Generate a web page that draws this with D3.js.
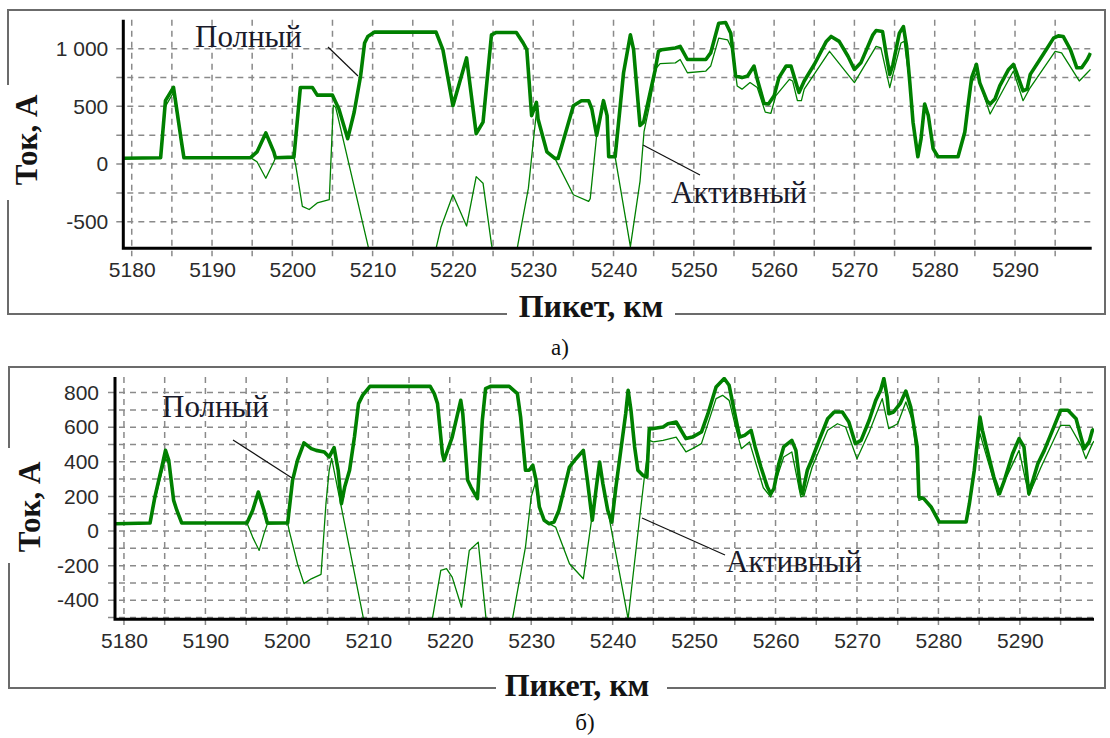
<!DOCTYPE html>
<html>
<head>
<meta charset="utf-8">
<script src="https://cdn.jsdelivr.net/npm/d3@7"></script>
<style>
  html, body { margin: 0; padding: 0; background: #fff; }
  svg { display: block; }
</style>
</head>
<body>
<svg id="chart" width="1110" height="738"></svg>
<script>
// ---- Panel (а): current profile, 5179–5300 km ----
const topKmFull = [5179.0,5183.6,5184.2,5185.2,5186.2,5186.5,5194.8,5195.6,5196.7,5197.7,5197.9,5200.2,5201.0,5202.5,5203.1,5205.0,5205.8,5206.9,5207.7,5208.5,5209.0,5209.4,5210.2,5217.9,5218.75,5220.0,5221.7,5222.9,5223.75,5224.8,5225.4,5227.9,5228.75,5229.2,5229.8,5230.4,5230.6,5231.7,5232.7,5233.1,5235.0,5236.0,5236.9,5237.3,5237.9,5238.75,5239.2,5239.4,5240.2,5241.25,5242.1,5242.5,5243.3,5243.75,5245.2,5245.6,5246.0,5247.7,5248.3,5249.2,5251.5,5252.1,5253.1,5253.96,5254.6,5255.2,5256.0,5256.7,5257.5,5257.9,5258.75,5259.3,5260.0,5260.6,5261.5,5262.1,5262.9,5263.1,5263.75,5265.0,5266.5,5267.1,5268.1,5269.2,5270.0,5270.8,5272.3,5272.7,5273.5,5274.0,5274.4,5274.8,5275.6,5276.1,5276.5,5276.9,5277.3,5277.9,5278.3,5278.75,5279.2,5279.8,5280.4,5282.9,5283.75,5284.2,5284.6,5285.2,5285.6,5286.5,5286.9,5287.5,5288.1,5289.2,5289.8,5290.2,5291.0,5291.5,5291.9,5293.5,5294.8,5295.4,5296.0,5296.9,5297.7,5298.3,5299.0,5299.4];
const topFull = [50,55,550,665,190,55,55,105,270,105,55,60,663,663,597,597,477,220,449,763,1049,1106,1143,1143,991,506,920,263,363,1120,1140,1140,1049,991,420,534,391,106,49,49,506,549,549,477,249,549,420,63,63,791,1120,991,334,363,820,977,991,1006,1020,906,906,963,1220,1226,1134,763,749,763,849,734,525,520,591,749,849,849,663,620,720,863,1063,1106,1063,934,820,877,1120,1157,1149,934,777,863,1134,1191,1020,706,363,63,220,520,420,134,63,63,277,534,749,863,706,549,520,563,677,820,863,791,634,649,777,949,1091,1111,1106,991,834,834,906,963];

const topKmActive = [5179.0,5183.6,5184.2,5185.2,5186.2,5186.5,5194.8,5195.6,5196.7,5197.7,5197.9,5200.2,5200.4,5201.25,5202.1,5203.1,5204.6,5205.1,5205.4,5209.5,5210.2,5217.2,5217.9,5218.5,5220.0,5221.7,5222.9,5223.75,5224.8,5225.5,5227.5,5228.1,5229.4,5230.0,5230.4,5230.6,5231.7,5232.7,5235.0,5236.9,5237.1,5237.9,5238.75,5239.2,5239.4,5240.2,5242.1,5243.3,5243.8,5244.4,5245.3,5245.8,5247.7,5248.3,5249.2,5251.5,5252.1,5253.1,5254.2,5254.8,5255.4,5256.0,5257.0,5257.9,5258.9,5259.6,5260.2,5261.9,5262.3,5262.9,5263.4,5263.75,5266.9,5270.0,5272.7,5273.3,5274.4,5274.8,5275.8,5276.2,5276.6,5276.9,5277.3,5277.9,5278.3,5278.75,5279.2,5279.8,5280.4,5282.9,5283.75,5284.2,5284.6,5285.2,5286.9,5289.8,5291.0,5291.9,5295.0,5295.8,5298.0,5299.0,5299.4];
const topActive = [50,55,500,620,180,55,55,20,-123,20,55,55,0,-366,-394,-337,-309,510,491,-730,-950,-950,-730,-550,-266,-537,-109,-166,-694,-950,-950,-694,-209,191,450,391,106,49,-266,-323,-300,249,549,420,63,63,-716,-150,280,480,830,870,877,906,791,806,849,1091,1077,991,677,649,706,663,450,440,591,734,720,549,549,650,977,706,1020,1006,663,777,1049,1063,850,706,363,63,220,520,420,134,63,63,277,534,700,791,434,806,549,663,977,963,720,791,820];

const topYTicks = [1000, 500, 0, -500];
const topYTickLabels = ["1 000", "500", "0", "-500"];

// ---- Panel (б): current profile, 5179–5299 km ----
const botKmFull = [5179.0,5183.2,5183.8,5184.65,5185.1,5185.5,5186.1,5186.5,5187.1,5195.1,5195.8,5196.5,5197.2,5197.6,5200.1,5200.7,5201.3,5202.1,5203.0,5203.6,5204.6,5205.2,5205.8,5206.3,5206.7,5207.1,5207.7,5208.3,5208.8,5209.3,5210.2,5217.6,5218.1,5218.5,5219.1,5219.3,5220.3,5221.35,5221.6,5222.2,5222.6,5223.4,5224.0,5224.4,5225.0,5227.3,5228.3,5228.7,5229.3,5229.75,5230.2,5230.6,5231.0,5231.6,5232.2,5232.8,5233.4,5234.3,5234.7,5235.5,5236.4,5236.9,5237.5,5238.0,5238.4,5238.8,5239.4,5239.9,5240.4,5241.0,5241.6,5241.9,5242.25,5242.7,5243.1,5243.7,5244.2,5244.5,5245.0,5246.2,5246.8,5247.8,5249.0,5249.8,5250.9,5251.7,5252.7,5253.7,5254.3,5255.0,5255.6,5256.2,5257.0,5257.5,5258.2,5259.0,5259.4,5259.8,5260.4,5261.0,5262.0,5262.5,5263.1,5263.3,5263.9,5264.5,5265.5,5266.4,5267.2,5268.2,5269.0,5269.8,5270.5,5271.5,5272.3,5272.9,5273.3,5273.7,5273.9,5274.5,5275.3,5276.0,5276.6,5277.0,5277.4,5277.6,5278.2,5279.1,5280.1,5283.4,5283.8,5284.4,5284.8,5285.1,5285.4,5286.0,5286.8,5287.5,5288.1,5289.1,5289.9,5290.5,5291.1,5291.6,5292.2,5293.0,5294.0,5295.0,5295.9,5296.9,5297.5,5297.9,5298.5,5298.9,5299.1];
const botFull = [42,46,197,370,466,408,177,119,46,46,119,225,119,46,46,293,408,509,476,466,457,428,482,351,158,254,351,543,736,784,836,836,794,736,447,408,543,755,678,293,254,187,640,823,836,836,794,659,351,351,380,293,139,62,42,52,119,293,370,418,466,293,62,254,399,274,119,52,254,466,678,813,698,486,351,322,312,592,592,601,620,630,534,543,572,678,832,881,842,678,543,553,582,486,370,254,216,245,389,486,524,466,235,216,351,418,543,649,688,688,630,505,524,640,755,813,881,775,678,688,736,809,717,601,486,197,187,139,52,52,158,351,524,659,582,466,312,216,293,447,534,486,216,293,389,466,582,698,698,649,543,476,515,582,590];

const botKmActive = [5179.0,5183.2,5183.8,5184.65,5185.1,5185.5,5186.1,5186.5,5187.1,5195.1,5195.8,5196.6,5197.2,5197.6,5200.1,5200.3,5201.3,5202.1,5203.0,5204.2,5204.8,5205.2,5205.5,5209.4,5210.0,5217.0,5217.9,5218.9,5219.6,5220.3,5221.45,5222.4,5223.5,5224.45,5225.0,5227.0,5227.7,5229.3,5230.0,5230.6,5231.0,5231.6,5232.2,5233.0,5234.7,5236.4,5238.4,5238.8,5239.4,5241.9,5243.3,5243.9,5244.5,5245.0,5246.2,5247.8,5249.0,5249.8,5250.9,5252.7,5253.5,5254.3,5255.2,5255.8,5256.8,5257.6,5258.5,5259.4,5261.0,5262.0,5263.1,5263.5,5264.5,5266.4,5267.6,5268.6,5270.0,5271.5,5273.1,5273.9,5275.0,5276.0,5276.8,5277.2,5277.6,5278.2,5279.1,5280.1,5283.4,5283.8,5284.4,5284.8,5285.1,5287.3,5289.9,5291.1,5292.6,5295.0,5296.1,5297.5,5298.1,5298.9,5299.1];
const botActive = [42,46,180,340,420,390,170,119,46,46,-35,-112,-15,40,46,0,-189,-304,-276,-250,158,351,420,-505,-650,-650,-497,-227,-217,-266,-440,-112,-64,-505,-650,-650,-507,-92,197,293,139,62,42,23,-189,-276,399,274,119,-507,71,312,524,515,524,543,457,476,505,765,784,755,582,476,515,389,250,197,428,457,197,205,370,582,620,601,418,572,765,592,620,746,640,480,177,187,139,52,52,158,351,486,563,206,466,206,370,611,611,495,418,505,520];

const botYTicks = [800, 600, 400, 200, 0, -200, -400];
const botYTickLabels = ["800", "600", "400", "200", "0", "-200", "-400"];

// shared x ticks
const xTicks = [5180, 5190, 5200, 5210, 5220, 5230, 5240, 5250, 5260, 5270, 5280, 5290];
const xTickLabels = xTicks.map(String);

const seriesNames = ["Полный", "Активный"];
const axisTitleX = "Пикет, км";
const axisTitleY = "Ток, А";
const panelCaptions = ["а)", "б)"];

const GREEN = "#008000";
const SERIF = "'Liberation Serif', 'Times New Roman', serif";
const SANS = "'Liberation Sans', Arial, sans-serif";

const svg = d3.select("#chart");
svg.append("rect").attr("width", 1110).attr("height", 738).attr("fill", "#fff");

function drawPanel(p, idx) {
  const g = svg.append("g");
  const x = d3.scaleLinear().domain(p.xDomain).range([p.left, p.right]);
  const y = d3.scaleLinear().domain(p.yDomain).range([p.bottom, p.top]);

  // frame with breaks for the axis titles
  const f = p.frame;
  g.append("path")
    .attr("d", `M${f.x0},${f.gapY0} V${f.y0} H${f.x1} V${f.y1} H${f.gapX1} M${f.gapX0},${f.y1} H${f.x0} V${f.gapY1}`)
    .attr("fill", "none").attr("stroke", "#6b6b6b").attr("stroke-width", 2);

  const clipId = "clip" + idx;
  g.append("clipPath").attr("id", clipId).append("rect")
    .attr("x", p.left).attr("y", p.top).attr("width", p.right - p.left).attr("height", p.bottom - p.top);

  // dashed grid
  const xGrid = d3.range(5180, p.xDomain[1], 5);
  const yGrid = d3.range(Math.ceil(p.yDomain[0] / p.yGridStep) * p.yGridStep, p.yDomain[1], p.yGridStep);
  const grid = g.append("g").attr("stroke", "#8a8a8a").attr("stroke-width", 1.5).attr("stroke-dasharray", "6,5");
  grid.selectAll(".gx").data(xGrid).join("line")
    .attr("x1", d => x(d)).attr("x2", d => x(d))
    .attr("y1", p.top).attr("y2", p.bottom + 8);
  grid.selectAll(".gy").data(yGrid).join("line")
    .attr("x1", p.left - 7).attr("x2", p.right)
    .attr("y1", d => y(d)).attr("y2", d => y(d));

  // curves
  const line = d3.line().x(d => x(d[0])).y(d => y(d[1]));
  const plot = g.append("g").attr("clip-path", `url(#${clipId})`);
  plot.append("path").datum(d3.zip(p.kmActive, p.active))
    .attr("d", line).attr("fill", "none").attr("stroke", GREEN).attr("stroke-width", 1.3)
    .attr("stroke-linejoin", "round");
  plot.append("path").datum(d3.zip(p.kmFull, p.full))
    .attr("d", line).attr("fill", "none").attr("stroke", GREEN).attr("stroke-width", 3.6)
    .attr("stroke-linejoin", "round");

  // axes
  const xAxis = d3.axisBottom(x).tickValues(xTicks).tickFormat((d, i) => xTickLabels[i]).tickSize(0).tickPadding(p.xPad);
  const ax = g.append("g").attr("transform", `translate(0,${p.bottom})`).call(xAxis);
  ax.select(".domain").remove();
  ax.selectAll("text").attr("font-family", SANS).attr("font-size", 21).attr("fill", "#2b2b2b");

  const yAxis = d3.axisLeft(y).tickValues(p.yTicks).tickFormat((d, i) => p.yTickLabels[i]).tickSize(0).tickPadding(p.yPad);
  const ay = g.append("g").attr("transform", `translate(${p.left},0)`).call(yAxis);
  ay.select(".domain").remove();
  ay.selectAll("text").attr("font-family", SANS).attr("font-size", 21).attr("fill", "#2b2b2b");

  g.append("path")
    .attr("d", `M${p.left},${p.top} V${p.bottom} H${p.right}`)
    .attr("fill", "none").attr("stroke", "#000").attr("stroke-width", 3);

  // axis titles
  g.append("text").attr("x", p.xTitle[0]).attr("y", p.xTitle[1])
    .attr("text-anchor", "middle").attr("font-family", SERIF).attr("font-weight", "bold")
    .attr("font-size", 32).attr("fill", "#141414").text(axisTitleX);
  g.append("text").attr("transform", `translate(${p.yTitle[0]},${p.yTitle[1]}) rotate(-90)`)
    .attr("text-anchor", "middle").attr("font-family", SERIF).attr("font-weight", "bold")
    .attr("font-size", 31).attr("fill", "#141414").text(axisTitleY);

  // series labels with leader lines
  p.labels.forEach((L, i) => {
    g.append("line").attr("x1", L.l[0]).attr("y1", L.l[1]).attr("x2", L.l[2]).attr("y2", L.l[3])
      .attr("stroke", "#111").attr("stroke-width", 1.2);
    g.append("text").attr("x", L.t[0]).attr("y", L.t[1])
      .attr("font-family", SERIF).attr("font-size", 31).attr("fill", "#1a1a2a").text(seriesNames[i]);
  });

  // caption
  svg.append("text").attr("x", p.caption[0]).attr("y", p.caption[1]).attr("text-anchor", "middle")
    .attr("font-family", SERIF).attr("font-size", 23).attr("fill", "#111").text(panelCaptions[idx]);
}

drawPanel({
  xDomain: [5178.95, 5299.55], yDomain: [-730, 1250],
  left: 123.3, right: 1091.7, top: 19.8, bottom: 248.3,
  yGridStep: 250, yTicks: topYTicks, yTickLabels: topYTickLabels, xPad: 14, yPad: 15,
  kmFull: topKmFull, full: topFull, kmActive: topKmActive, active: topActive,
  frame: { x0: 8, x1: 1105, y0: 10, y1: 314, gapY0: 85, gapY1: 200, gapX0: 507, gapX1: 675 },
  xTitle: [591, 317], yTitle: [37, 140],
  labels: [ { t: [195, 47], l: [328, 47, 358, 76] }, { t: [671, 203], l: [643, 145, 700, 175] } ],
  caption: [560, 355]
}, 0);

drawPanel({
  xDomain: [5178.9, 5299.1], yDomain: [-510, 890],
  left: 115, right: 1094, top: 377, bottom: 619.3,
  yGridStep: 100, yTicks: botYTicks, yTickLabels: botYTickLabels, xPad: 14, yPad: 16,
  kmFull: botKmFull, full: botFull, kmActive: botKmActive, active: botActive,
  frame: { x0: 9, x1: 1105, y0: 367, y1: 688, gapY0: 448, gapY1: 563, gapX0: 496, gapX1: 667 },
  xTitle: [577, 696], yTitle: [40, 507],
  labels: [ { t: [162, 417], l: [233, 440, 292, 478] }, { t: [726, 572], l: [642, 518, 725, 555] } ],
  caption: [585, 730]
}, 1);
</script>
</body>
</html>
